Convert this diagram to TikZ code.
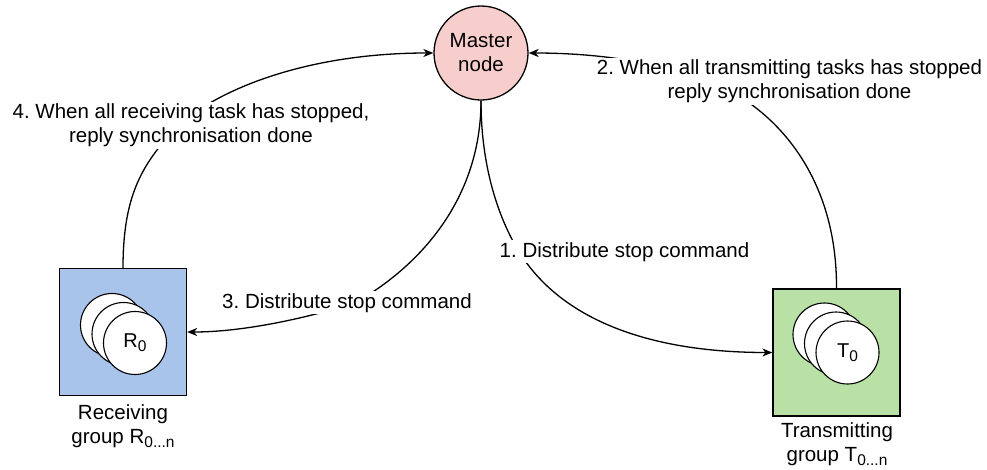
\documentclass[tikz,border=0pt]{standalone}
\usepackage{fontspec}
\setmainfont{Liberation Sans}
\usetikzlibrary{arrows.meta}
\definecolor{masterfill}{HTML}{F8CECC}
\definecolor{rxfill}{HTML}{A9C4EB}
\definecolor{txfill}{HTML}{B9E0A5}
\frenchspacing
% lowered index text, slightly smaller than the body text
\newcommand{\idx}[1]{\raisebox{-4pt}{\fontsize{15.5}{16}\selectfont #1}}
\begin{document}
\begin{tikzpicture}[x=1pt,y=-1pt,
  every node/.style={font=\fontsize{20.5}{24}\selectfont, inner sep=0pt},
  flow/.style={draw=black, line width=1.3pt,
    -{Stealth[length=10pt,width=8pt,inset=3pt]}},
  groupbox/.style={draw=black, line width=1.3pt, minimum size=127pt},
  task/.style={circle, draw=black, fill=white, line width=1.1pt,
    minimum size=63pt, font=\fontsize{20}{24}\selectfont},
  edgelabel/.style={fill=white, inner sep=2pt, align=center},
  caption/.style={align=center, anchor=north}]
\useasboundingbox (0,0) rectangle (987,469);

% master node
\node[circle, draw=black, line width=1.3pt, fill=masterfill,
  minimum size=94pt, align=center] (master) at (481,53) {Master\\node};

% receiving group with its stacked tasks
\node[groupbox, fill=rxfill] (rx) at (123,332) {};
\node[task] (r2) at (112,325) {};
\node[task] (r1) at (123.5,334) {};
\node[task] (r0) at (135,343) {R\idx{0}};
\node[caption] (rxcap) at (123,404.3) {Receiving\\group R\idx{0...n}};

% transmitting group with its stacked tasks
\node[groupbox, fill=txfill] (tx) at (836.5,352.5) {};
\node[task] (t2) at (824.5,334.5) {};
\node[task] (t1) at (836,343.5) {};
\node[task] (t0) at (847.5,352.5) {T\idx{0}};
\node[caption] (txcap) at (837,422.3) {Transmitting\\group T\idx{0...n}};

% 1: master -> transmitting group
\draw[flow] (master.south) .. controls (481,170) and (500,220) .. (518,250)
  .. controls (560,320) and (650,352.5) .. (tx.west);
% 3: master -> receiving group
\draw[flow] (master.south) .. controls (481,190) and (430,260) .. (355,303)
  .. controls (300,320) and (240,332) .. (rx.east);
% 2: transmitting group -> master
\draw[flow] (tx.north) .. controls (837,190) and (790,130) .. (745,100)
  .. controls (700,70) and (620,53) .. (master.east);
% 4: receiving group -> master
\draw[flow] (rx.north) .. controls (123,200) and (140,170) .. (165,140)
  .. controls (195,100) and (290,53) .. (master.west);

% edge labels
\node[edgelabel, anchor=base] (l1) at (624.5,257) {1. Distribute stop command};
\node[edgelabel, anchor=base] (l3) at (347,308) {3. Distribute stop command};
\node[edgelabel, anchor=north] (l2) at (789.5,57.3)
  {2. When all transmitting tasks has stopped\\reply synchronisation done};
\node[edgelabel, anchor=north] (l4) at (191,101.3)
  {4. When all receiving task has stopped,\\reply synchronisation done};
\end{tikzpicture}
\end{document}
